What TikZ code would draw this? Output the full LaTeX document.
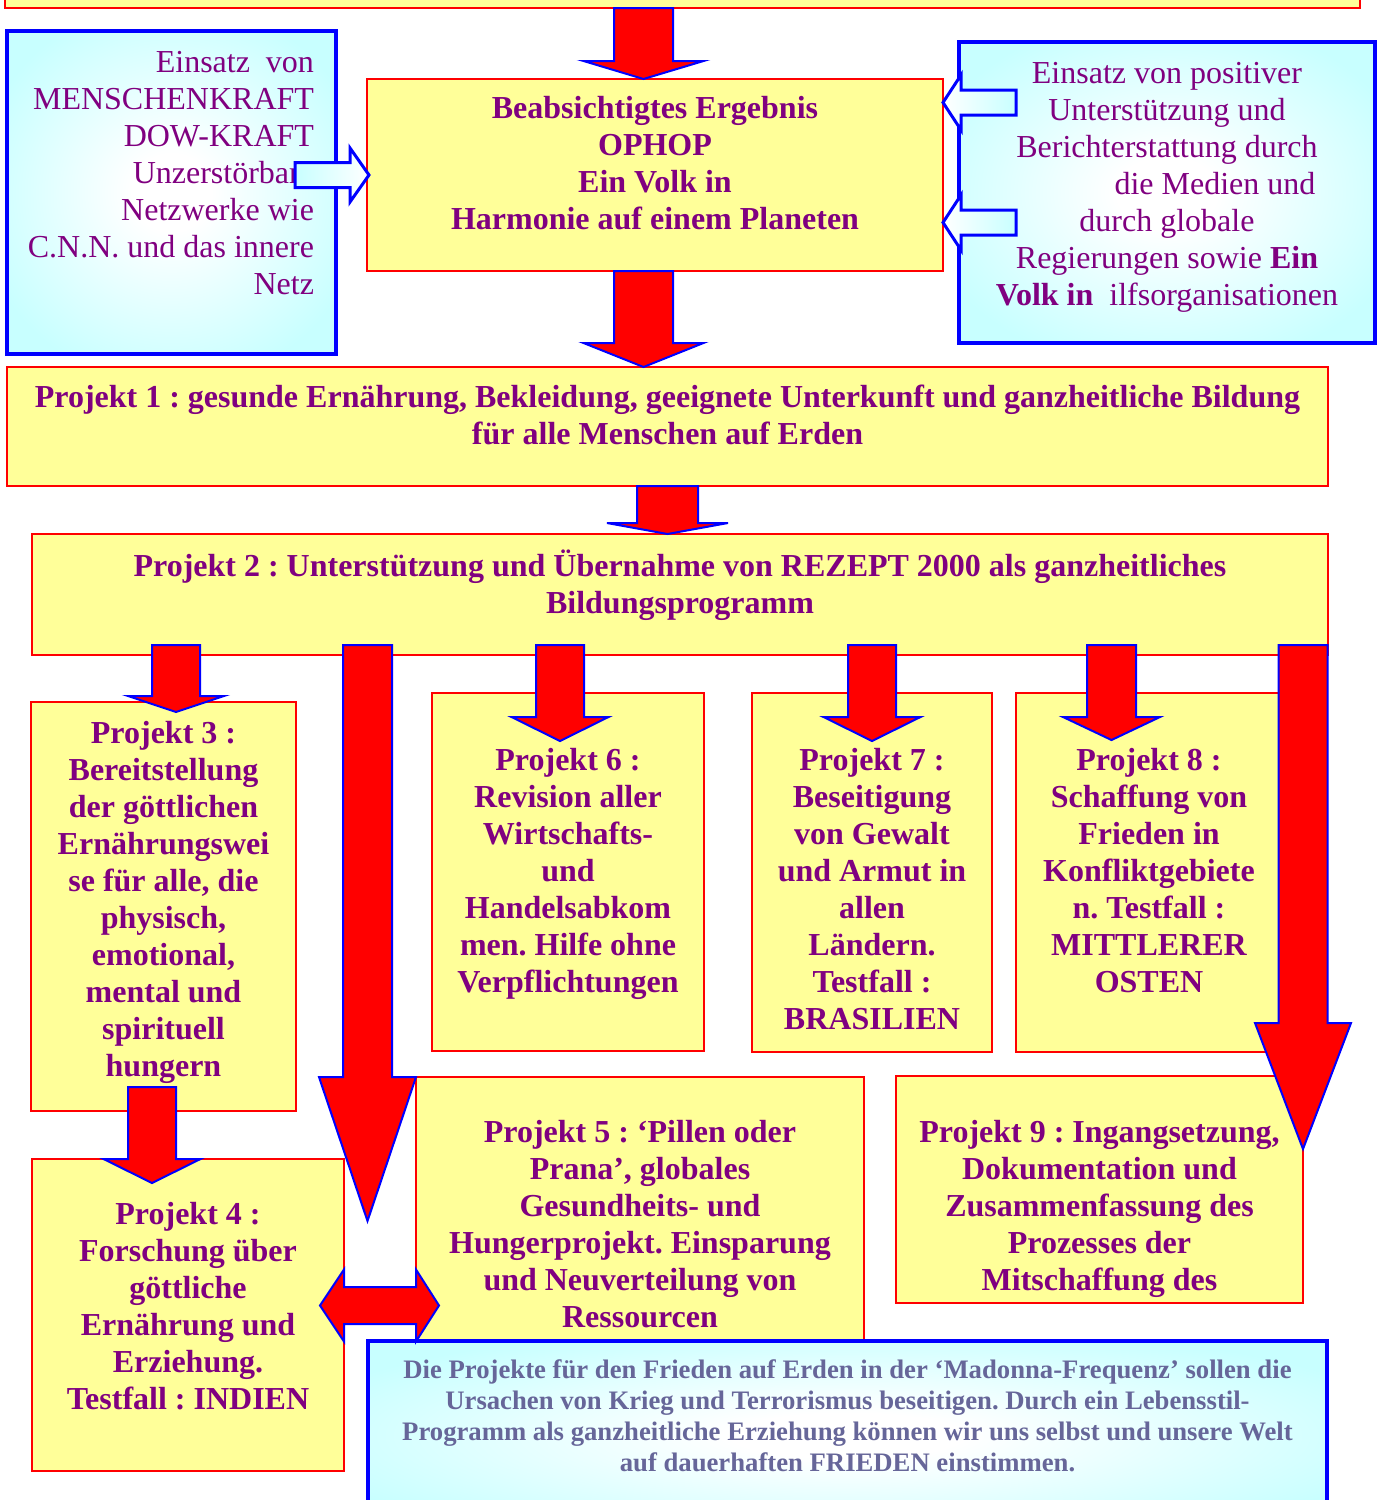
\documentclass[tikz,border=0pt]{standalone}
\usepackage{fontspec}
\setmainfont{Liberation Serif}
\frenchspacing
\usetikzlibrary{calc}
\definecolor{yfill}{HTML}{FFFF99}
\definecolor{cfill}{HTML}{C8FFFF}
\definecolor{ptext}{HTML}{800080}
\definecolor{btext}{HTML}{666699}
\pgfdeclareradialshading{bluish}{\pgfpoint{0bp}{0bp}}{color(0bp)=(white); color(6bp)=(white); color(30bp)=(cfill); color(50bp)=(cfill)}
\newcommand\bt[4]{\parbox[c][#2pt][t]{#1pt}{\centering\vspace*{#3pt}\strut #4}}
\newcommand\blockdown[5]{%
  \draw[redarrow] let \p1=#1, \p2=#2 in
   (\x2-#3pt,\y1) -- (\x2+#3pt,\y1) -- (\x2+#3pt,\y2+#5pt) -- (\x2+#4pt,\y2+#5pt)
   -- (\x2,\y2) -- (\x2-#4pt,\y2+#5pt) -- (\x2-#3pt,\y2+#5pt) -- cycle;}
\tikzset{
  ybox/.style={draw=red, line width=2.2pt, fill=yfill, inner sep=0pt, outer sep=0pt,
    anchor=north west, text=ptext, font=\fontsize{32}{37}\selectfont\bfseries},
  cbox/.style={draw=blue, line width=3.5pt, shade, shading=bluish, inner sep=0pt, outer sep=0pt,
    anchor=north west, text=ptext, font=\fontsize{32}{37}\selectfont},
  redarrow/.style={fill=red, draw=blue, line width=2pt, line join=miter},
  hollow/.style={draw=blue, line width=3pt, line join=miter}
}
\begin{document}
\begin{tikzpicture}[x=1pt,y=-1pt]
\useasboundingbox (0,0) rectangle (1377,1500);
\clip (0,0) rectangle (1377,1500);
% boxes
\node[ybox] (P0) at (5,-60) {\parbox[c][68pt][t]{1355pt}{\mbox{}}};
\node[ybox] (main) at (367,79) {\bt{576}{192}{13.7}{Beabsichtigtes Ergebnis\\ OPHOP\\ Ein Volk in\\ Harmonie auf einem Planeten}};
\node[cbox] (lb) at (7,31) {\parbox[c][323pt][t]{329pt}{\raggedleft\rightskip=22pt\relax\vspace*{15.1pt}\strut Einsatz\ \ von\\ MENSCHENKRAFT\\ DOW-KRAFT\\ Unzerstörbare\\ Netzwerke wie\\ C.N.N. und das innere\\ Netz}};
\node[cbox] (rb) at (959,42) {\bt{416}{301}{15.1}{Einsatz von positiver\\ Unterstützung und\\ Berichterstattung durch\\ \hspace*{96pt}die Medien und\\ durch globale\\ Regierungen sowie \textbf{Ein}\\ \textbf{Volk in}\ \ ilfsorganisationen}};
\node[ybox] (P1) at (7,367) {\bt{1321}{119}{14.7}{Projekt 1 : gesunde Ernährung, Bekleidung, geeignete Unterkunft und ganzheitliche Bildung\\ für alle Menschen auf Erden}};
\node[ybox] (P2) at (32,534) {\bt{1296}{121}{15.7}{Projekt 2 : Unterstützung und Übernahme von REZEPT 2000 als ganzheitliches\\ Bildungsprogramm}};
\node[ybox] (P3) at (31,702) {\bt{265}{409}{15.7}{Projekt 3 :\\ Bereitstellung\\ der göttlichen\\ Ernährungswei\\ se für alle, die\\ physisch,\\ emotional,\\ mental und\\ spirituell\\ hungern}};
\node[ybox] (P6) at (432,693) {\bt{272}{358}{51.7}{Projekt 6 :\\ Revision aller\\ Wirtschafts-\\ und\\ Handelsabkom\\ men. Hilfe ohne\\ Verpflichtungen}};
\node[ybox] (P7) at (752,693) {\bt{240}{359}{51.7}{Projekt 7 :\\ Beseitigung\\ von Gewalt\\ und Armut in\\ allen\\ Ländern.\\ Testfall :\\ BRASILIEN}};
\node[ybox] (P8) at (1016,693) {\bt{266}{359}{51.7}{Projekt 8 :\\ Schaffung von\\ Frieden in\\ Konfliktgebiete\\ n. Testfall :\\ MITTLERER\\ OSTEN}};
\node[ybox] (P5) at (416,1077) {\bt{448}{273}{39.7}{Projekt 5 : ‘Pillen oder\\ Prana’, globales\\ Gesundheits- und\\ Hungerprojekt. Einsparung\\ und Neuverteilung von\\ Ressourcen}};
\node[ybox] (P9) at (896,1076) {\bt{407}{227}{40.7}{Projekt 9 : Ingangsetzung,\\ Dokumentation und\\ Zusammenfassung des\\ Prozesses der\\ Mitschaffung des}};
\node[ybox] (P4) at (32,1159) {\bt{312}{312}{39.7}{Projekt 4 :\\ Forschung über\\ göttliche\\ Ernährung und\\ Erziehung.\\ Testfall : INDIEN}};
\node[cbox, text=btext, font=\fontsize{26.7}{31}\selectfont\bfseries] (bot) at (368,1341) {\bt{959}{189}{16.1}{Die Projekte für den Frieden auf Erden in der ‘Madonna-Frequenz’ sollen die\\ Ursachen von Krieg und Terrorismus beseitigen. Durch ein Lebensstil-\\ Programm als ganzheitliche Erziehung können wir uns selbst und unsere Welt\\ auf dauerhaften FRIEDEN einstimmen.}};
% hollow arrows
\draw[hollow, left color=cfill, right color=white] let \p1=(lb.east |- 0,175), \p2=(main.west |- 0,175) in
  (\x1-41pt,\y1+12.5pt) -- (\x1+14pt,\y1+12.5pt) -- (\x1+14pt,\y1+27pt) -- (\x2+2pt,\y1)
  -- (\x1+14pt,\y1-27pt) -- (\x1+14pt,\y1-12.5pt) -- (\x1-41pt,\y1-12.5pt) -- cycle;
\draw[hollow, left color=white, right color=cfill] let \p1=(rb.west |- 0,102.5), \p2=(main.east |- 0,102.5) in
  (\x1+57pt,\y1+12.5pt) -- (\x1+2pt,\y1+12.5pt) -- (\x1+2pt,\y1+27.5pt) -- (\x2,\y1)
  -- (\x1+2pt,\y1-27.5pt) -- (\x1+2pt,\y1-12.5pt) -- (\x1+57pt,\y1-12.5pt) -- cycle;
\draw[hollow, left color=white, right color=cfill] let \p1=(rb.west |- 0,222.5), \p2=(main.east |- 0,222.5) in
  (\x1+57pt,\y1+12.5pt) -- (\x1+2pt,\y1+12.5pt) -- (\x1+2pt,\y1+27.5pt) -- (\x2,\y1)
  -- (\x1+2pt,\y1-27.5pt) -- (\x1+2pt,\y1-12.5pt) -- (\x1+57pt,\y1-12.5pt) -- cycle;
% red block arrows
\blockdown{(P0.south -| 643.5,0)}{(main.north -| 643.5,0)}{29.5}{60}{18}
\blockdown{(main.south -| 643.5,0)}{(P1.north -| 643.5,0)}{29.5}{60}{24}
\blockdown{(P1.south -| 667.5,0)}{(P2.north -| 667.5,0)}{30.5}{60.5}{11}
\blockdown{($(P2.south -| 176,0)+(0,-10)$)}{($(P3.north -| 176,0)+(0,10)$)}{24}{48}{16}
\blockdown{($(P2.south -| 560,0)+(0,-10)$)}{($(P6.north -| 560,0)+(0,48)$)}{24}{48.5}{24}
\blockdown{($(P2.south -| 872,0)+(0,-10)$)}{($(P7.north -| 872,0)+(0,48)$)}{24}{48.5}{24}
\blockdown{($(P2.south -| 1111.5,0)+(0,-10)$)}{($(P8.north -| 1111.5,0)+(0,47)$)}{24.5}{48.5}{23}
\coordinate (L5tip) at (367.5,1221);
\blockdown{($(P2.south -| 367.5,0)+(0,-10)$)}{(L5tip)}{24.5}{48.5}{144}
\blockdown{($(P2.south -| 1303.5,0)+(0,-10)$)}{($(P9.north east)+(0,73)$)}{24.5}{48}{126}
\blockdown{($(P3.south -| 152,0)+(0,-24)$)}{($(P4.north -| 152,0)+(0,24)$)}{24}{48.5}{24}
% double arrow between P4 and P5
\draw[redarrow] let \p1=(P4.east |- 0,1305.5), \p2=(P5.west |- 0,1305.5) in
  (\x1-24pt,\y1) -- (\x1,\y1+36pt) -- (\x1,\y1+18.5pt) -- (\x2,\y1+18.5pt) -- (\x2,\y1+36pt)
  -- (\x2+23pt,\y1) -- (\x2,\y1-36pt) -- (\x2,\y1-18.5pt) -- (\x1,\y1-18.5pt) -- (\x1,\y1-36pt) -- cycle;
\end{tikzpicture}
\end{document}
